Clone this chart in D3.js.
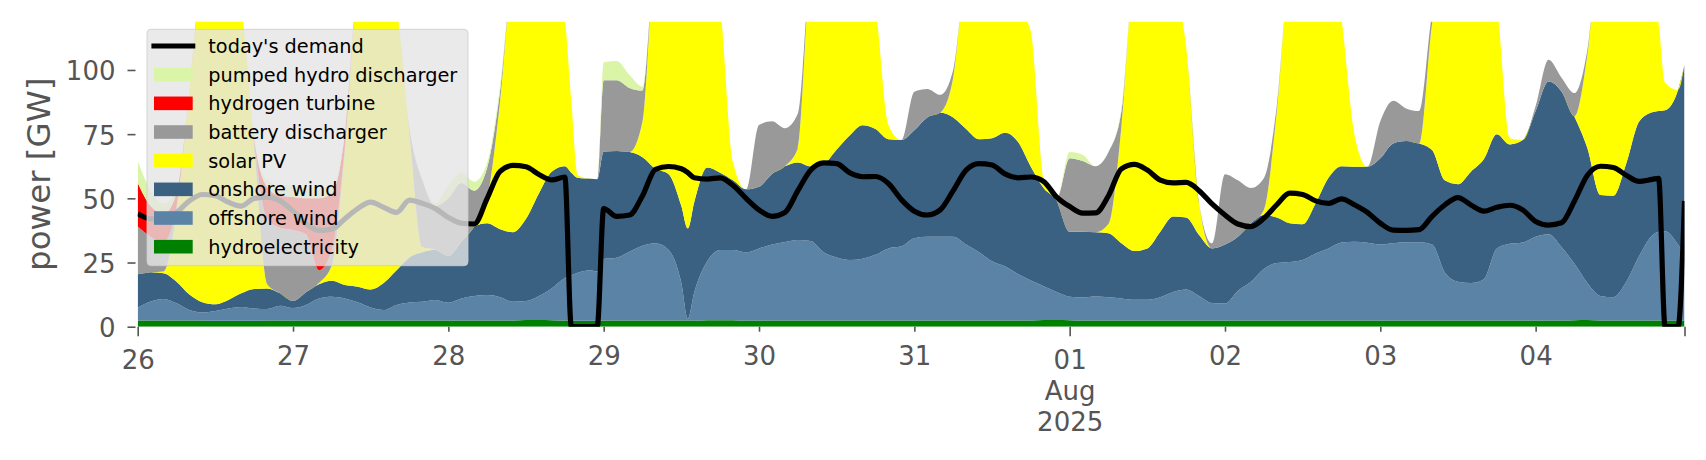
<!DOCTYPE html>
<html><head><meta charset="utf-8">
<script src="https://cdn.jsdelivr.net/npm/d3@7"></script>
<style>
body{margin:0;background:#fff;}
svg{display:block;}
text{font-family:"DejaVu Sans",sans-serif;}
</style>
</head><body>
<svg id="chart" width="1706" height="460"></svg>
<script>
// ---------------- DATA (hours after 2025-07-26 00:00) ----------------
const hours = [0,2,4,6,8,10,12,14,16,18,
  20,22,24,26,28,30,32,34,36,38,
  40,42,44,46,48,50,52,54,56,58,
  60,62,64,66,67,68,70,71,72,74,
  76,78,80,82,84,85,86,88,90,92,
  94,96,98,100,102,104,106,108,110,112,
  114,116,118,120,122,124,126,128,130,132,
  134,136,138,140,142,144,146,148,150,152,
  154,156,158,160,162,164,166,168,170,172,
  174,176,178,180,182,184,186,188,190,192,
  194,196,198,200,202,204,206,208,210,212,
  214,216,218,220,222,224,226,228,230,232,
  234,235,236,238,239];

const hydroelectricity = [2.4,2.4,2.4,2.4,2.4,2.4,2.3,2.3,2.3,2.3,
  2.4,2.4,2.4,2.4,2.4,2.4,2.4,2.4,2.4,2.4,
  2.4,2.4,2.4,2.4,2.4,2.4,2.4,2.4,2.4,2.4,
  2.6,2.6,2.5,2.4,2.4,2.3,2.3,2.3,2.4,2.4,
  2.4,2.4,2.4,2.4,2.4,2.4,2.4,2.5,2.5,2.5,
  2.4,2.4,2.4,2.4,2.4,2.4,2.4,2.4,2.4,2.4,
  2.4,2.4,2.4,2.4,2.4,2.4,2.4,2.4,2.4,2.4,
  2.4,2.4,2.4,2.6,2.6,2.5,2.4,2.4,2.4,2.4,
  2.4,2.4,2.4,2.4,2.4,2.4,2.4,2.4,2.4,2.4,
  2.4,2.4,2.4,2.4,2.4,2.4,2.4,2.4,2.4,2.4,
  2.4,2.4,2.4,2.4,2.4,2.4,2.4,2.4,2.4,2.4,
  2.4,2.4,2.4,2.4,2.5,2.6,2.4,2.4,2.4,2.4,
  2.4,2.4,2.4,2.4,2.4];

const offshoreWind = [5.0,7.4,8.4,6.7,4.1,3.1,3.8,4.8,5.4,4.8,
  4.5,5.8,4.9,6.1,8.6,9.3,8.6,7.1,5.1,4.1,
  6.1,7.0,7.3,8.0,6.9,8.6,9.6,9.9,9.1,7.3,
  7.4,9.4,12.5,16.6,17.6,18.7,19.7,19.2,24.0,24.5,
  26.8,29.1,30.1,27.6,14.6,0.8,11,23,27.4,27.4,
  26.6,28.1,29.6,30.6,31.4,31,26.6,24.6,23.6,24.1,
  25.6,28.1,28.9,32.1,32.6,32.6,32.6,29.6,26.6,23.1,
  21.1,18.1,15.6,13.2,10.9,9.2,9.1,9.4,9.1,8.6,
  8.1,8.1,9.1,11.1,12.1,9.6,6.8,6.6,11.6,15.1,
  20.1,22.4,22.8,23.6,26.1,28.1,30.4,30.7,30.3,29.6,
  30.1,30.5,30.5,29.6,18.6,15.1,14.6,16.1,28.1,29.9,
  30.4,32.6,33.6,28.6,22,14.4,9.6,9.1,15.1,25.1,
  33.1,34.6,34.8,29.6,25.6];

const onshoreWind = [13.0,11.4,10.0,8.4,6.0,4.0,2.6,3.3,5.3,7.6,
  8.0,4.8,2.7,4.9,5.5,6.2,5.2,6.1,7.0,10.5,
  13.5,17.6,19.3,19.6,18.2,22,27,28,26.5,27.1,
  32,40,45.5,43.5,40,37,35.6,35.9,41.8,41.5,
  38.8,34.5,29,29.5,30,35.1,35.2,36.5,30.1,27.1,
  24.5,24,27.5,29.5,30.2,29.1,34.5,42,48.5,52,
  49,42.5,41.4,42,46.5,48.4,46.5,45,44,47.9,
  52,51.5,44.3,38.1,35.5,25.3,25.5,25,24.9,21.5,
  19,20,25.5,29.4,28,23.7,21.3,23,21,22.8,
  21,17.7,15.1,13.9,19.5,27.5,29.7,29.2,29.6,33.6,
  38.9,39.4,38.5,36.8,35.9,38,43.4,46.8,44.5,38.7,
  39.9,49,59.5,60.6,57.3,52.5,39.3,39.5,46.1,52.4,
  48,47,47.1,60.2,74];

const solarPV = [0,0,0.7,27.5,79.5,130.5,141.3,139.6,112,55.3,
  1.6,0,0,0,0.5,6.1,51.8,119.4,135.5,133,
  103,48,2,0,0,0,0,9.7,50,103.2,
  108,98,79.5,57.5,28,1,0,0,0,0,
  0,14,83.5,90.5,103,111.7,101.4,88,65,7,
  0,0,0,0,5.5,77.5,86.5,81,75.5,71.5,
  48,5.6,0,0,0,0,15.5,63,77,76.6,
  74.5,53,52.7,3.9,0,0,0,0,3.6,45.5,
  110.5,119.5,113,92.1,66.5,12.3,0,0,0,0,
  2,41.2,99.7,110.1,102,92,57.5,12.7,0,0,
  0,0,0,49.2,83.1,94.5,89.6,74.7,50,2.4,
  0,0,0,0,0.2,36.5,98.7,99,86.4,70.1,
  46.5,34,10.7,0,0];

const batteryDischarger = [18.6,13.8,11.5,2,0,0,0,0,0,2,
  25.5,25.5,27.7,22.6,5,6,2,0,0,0,
  0,2,26,17,22.5,23,14,12,4,0,
  0,0,0,0,0,0,0,0,27.8,27.6,
  25,12,0,0,0,0,0,0,0,0,
  0,24.1,20.5,14.8,13.5,0,0,0,0,0,
  0,0,0,15,11.1,6.9,3,0,0,0,
  0,0,0,0,1,28.6,27.5,25.7,28,6,
  0,0,0,0,0,0,2,27.4,22,13.7,
  12.3,2.3,0,0,0,0,0,0,0,14.4,
  16.6,12.7,12.6,4,0,0,0,0,0,0,
  0,2,8.5,5.4,9,2,0,0,0,0,
  0,0,0,0,0];

const hydrogenTurbine = [17,12,11,5,0,0,0,0,0,1,
  12.5,12.5,12.8,14,28,22,5,0,0,0,
  0,0,0,0,0,0,0,0,0,0,
  0,0,0,0,0,0,0,0,0,0,
  0,0,0,0,0,0,0,0,0,0,
  0,0,0,0,0,0,0,0,0,0,
  0,0,0,0,0,0,0,0,0,0,
  0,0,0,0,0,0,0,0,0,0,
  0,0,0,0,0,0,0,0,0,0,
  0,0,0,0,0,0,0,0,0,0,
  0,0,0,0,0,0,0,0,0,0,
  0,0,0,0,0,0,0,0,0,0,
  0,0,0,0,0];

const pumpedHydroDischarger = [8.5,6,4,1,0,0,0,0,0,1,
  2.5,4,4.5,4,4,2,1,0,0,0,
  0,0,0,1,5,4,3.5,2,2,0,
  0,0,0,0,0,0,0,0,7,7.5,
  5,1.5,0,0,0,0,0,0,0,0,
  0,0,0,0,0,0,0,0,0,0,
  0,0,0,0,0,0,0,0,0,0,
  0,0,0,0,0,2.4,2.5,0,0,1,
  0,0,0,0,0,0,0,0,0,0,
  0,0,0,0,0,0,0,0,0,0,
  0,0,0,0,0,0,0,0,0,0,
  0,0,0,0,0,0,0,0,0,0,
  0,0,0,0,0];

const todaysDemand = [44,42,42,44.5,49,51.5,51,48.5,47,50,
  50.5,49,45,40,37.5,38,42,46,48.5,46.5,
  44.5,49.3,48,46,42.5,40.3,40,50,60.5,62.8,
  62.3,59.3,57.2,58.3,0,0,0,0,46,43,
  43.5,51,61.3,62.4,61.5,60,58,57.5,58,55,
  50,45.5,43,44.5,53,61,63.8,63.5,60,58.4,
  58.5,55.8,49.5,45,43.5,45.5,53,61,63.5,63,
  59.5,58,58.3,56.5,50.5,46.8,44.2,44.3,51,61.5,
  63.2,61,57.1,56,56.2,53,47.8,43.5,40,39,
  42.2,47.5,52,51.5,49,48,49.8,47.5,44.5,40.3,
  37.6,37.5,37.8,43,47.5,50.3,47.4,45,46.5,47.3,
  45.5,41,39.6,40.5,49,59,62.5,62,59,56.6,
  57.4,57.8,0,0,49];

const yTicks = [0, 25, 50, 75, 100];
const dayTickLabels = ["26","27","28","29","30","31","01","02","03","04"];
const monthYearLabel = ["Aug", "2025"];

// ---------------- CHART ----------------
const X0 = 137.7, X1 = 1684.5, Y0 = 326.7, Y1 = 21.7;
const svg = d3.select("#chart");
const start = new Date(2025, 6, 26, 0, 0, 0);
const dates = hours.map(h => new Date(start.getTime() + h * 3600e3));

const x = d3.scaleTime().domain([dates[0], dates[dates.length - 1]]).range([X0, X1]);
const y = d3.scaleLinear().domain([0, 118.8]).range([Y0, Y1]);

const layers = [
  {key: "hydroelectricity", label: "hydroelectricity", color: "#008000", values: hydroelectricity},
  {key: "offshore", label: "offshore wind", color: "#5B83A6", values: offshoreWind},
  {key: "onshore", label: "onshore wind", color: "#3B6182", values: onshoreWind},
  {key: "solar", label: "solar PV", color: "#FFFF00", values: solarPV},
  {key: "battery", label: "battery discharger", color: "#999999", values: batteryDischarger},
  {key: "hydrogen", label: "hydrogen turbine", color: "#FF0000", values: hydrogenTurbine},
  {key: "pumped", label: "pumped hydro discharger", color: "#DAF5A8", values: pumpedHydroDischarger}
];

const rows = dates.map((d, i) => {
  const r = {date: d, demand: todaysDemand[i]};
  layers.forEach(l => r[l.key] = l.values[i]);
  return r;
});

const stacked = d3.stack().keys(layers.map(l => l.key))(rows);

svg.append("defs").append("clipPath").attr("id", "plotclip")
  .append("rect").attr("x", X0).attr("y", Y1).attr("width", X1 - X0).attr("height", Y0 - Y1);

const plot = svg.append("g").attr("clip-path", "url(#plotclip)");

const area = d3.area()
  .curve(d3.curveMonotoneX)
  .x(d => x(d.data.date))
  .y0(d => y(d[0]))
  .y1(d => y(d[1]));

plot.selectAll("path.layer").data(stacked).join("path")
  .attr("class", "layer")
  .attr("d", area)
  .attr("fill", (d, i) => layers[i].color);

const line = d3.line().x(d => x(d.date)).y(d => y(d.demand)).curve(d3.curveMonotoneX);
plot.append("path").datum(rows)
  .attr("d", line)
  .attr("fill", "none")
  .attr("stroke", "#000")
  .attr("stroke-width", 5.2)
  .attr("stroke-linejoin", "round");

// ---------------- AXES ----------------
const tickColor = "#555555";

const gy = svg.append("g").attr("transform", `translate(135.5,0)`)
  .call(d3.axisLeft(y).tickValues(yTicks).tickSize(8).tickPadding(12).tickFormat(d3.format("d")));
gy.select(".domain").remove();
gy.selectAll(".tick line").attr("stroke", tickColor).attr("stroke-width", 1.6);
gy.selectAll(".tick text").attr("fill", tickColor).attr("font-size", 26).attr("dy", "0.38em")
  .style("font-family", "DejaVu Sans");

const tickDates = dayTickLabels.map((_, i) => new Date(2025, 6, 26 + i));
const majorIdx = [0, 6];
const minorDates = tickDates.filter((d, i) => !majorIdx.includes(i));
const labelFor = d => dayTickLabels[tickDates.findIndex(t => +t === +d)] || "";

const gxMinor = svg.append("g").attr("transform", `translate(0,${Y0})`)
  .call(d3.axisBottom(x).tickValues(minorDates).tickSize(5).tickPadding(14.5).tickFormat(labelFor));
gxMinor.select(".domain").remove();

const majorDates = [tickDates[0], tickDates[6], dates[dates.length - 1]];
const gxMajor = svg.append("g").attr("transform", `translate(0,${Y0})`)
  .call(d3.axisBottom(x).tickValues(majorDates).tickSize(9.5).tickPadding(14).tickFormat(labelFor));
gxMajor.select(".domain").remove();

[gxMinor, gxMajor].forEach(g => {
  g.selectAll(".tick line").attr("stroke", tickColor).attr("stroke-width", 1.6);
  g.selectAll(".tick text").attr("fill", tickColor).attr("font-size", 26)
    .style("font-family", "DejaVu Sans");
});

// month / year under "01"
gxMajor.selectAll(".tick text").each(function(d) {
  if (+d === +tickDates[6]) {
    const t = d3.select(this);
    monthYearLabel.forEach(s => {
      t.append("tspan").attr("x", 0).attr("dy", "1.2em").text(s);
    });
  }
});

// y label
svg.append("text")
  .attr("transform", `translate(50,174.2) rotate(-90)`)
  .attr("text-anchor", "middle")
  .attr("fill", tickColor)
  .attr("font-size", 32.5)
  .text("power [GW]");

// ---------------- LEGEND ----------------
const leg = svg.append("g");
leg.append("rect")
  .attr("x", 147).attr("y", 29.3).attr("width", 321).attr("height", 236.4)
  .attr("rx", 4).attr("ry", 4)
  .attr("fill", "#E5E5E5").attr("fill-opacity", 0.8)
  .attr("stroke", "#CCCCCC").attr("stroke-opacity", 0.8).attr("stroke-width", 1);

const legendItems = [{label: "today's demand", type: "line", color: "#000"}]
  .concat(layers.slice().reverse().map(l => ({label: l.label, type: "patch", color: l.color})));

legendItems.forEach((it, i) => {
  const cy = 46 + i * 28.67;
  if (it.type === "line") {
    leg.append("line").attr("x1", 154).attr("x2", 192.7).attr("y1", cy).attr("y2", cy)
      .attr("stroke", it.color).attr("stroke-width", 5.2).attr("stroke-linecap", "square");
  } else {
    leg.append("rect").attr("x", 154).attr("y", cy - 6.8).attr("width", 38.7).attr("height", 13.6)
      .attr("fill", it.color);
  }
  leg.append("text").attr("x", 208.3).attr("y", cy + 6.9)
    .attr("font-size", 19.3).attr("fill", "#000").text(it.label);
});
</script>
</body></html>
